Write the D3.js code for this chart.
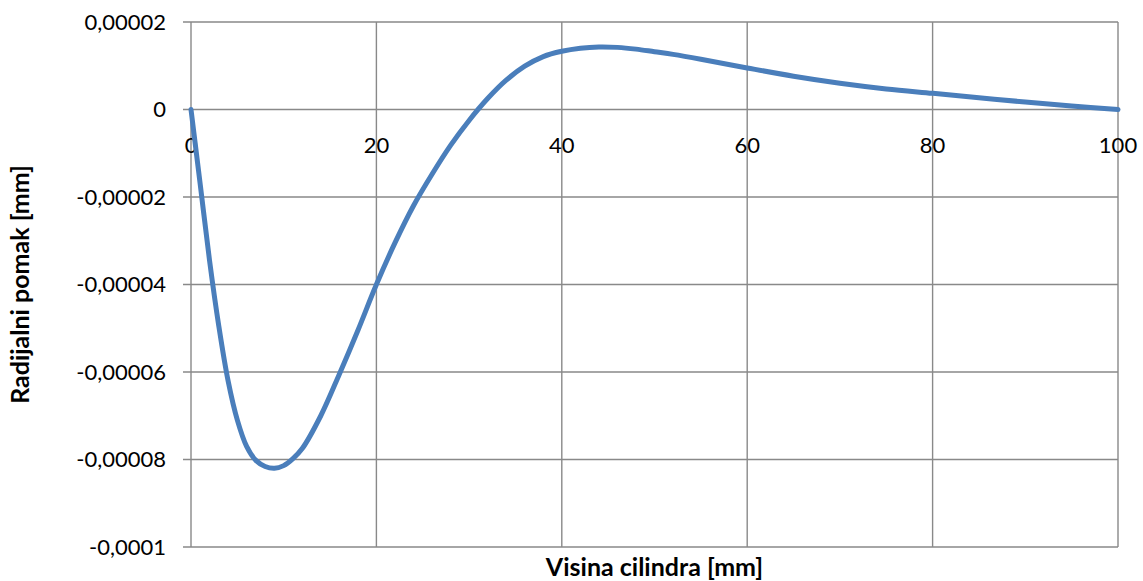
<!DOCTYPE html>
<html>
<head>
<meta charset="utf-8">
<script src="https://cdn.jsdelivr.net/npm/d3@7"></script>
<style>
  body { margin: 0; background: #fff; }
  text { font-family: Lato, "Open Sans", sans-serif; fill: #000; }
</style>
</head>
<body>
<div id="chart"></div>
<script>
// visina cilindra [mm]
const heightMm = [0, 1, 2, 3, 4, 5, 6, 7, 8, 9, 10, 11, 12, 14, 16, 18, 20, 22, 24, 26, 28, 30,
                  32, 34, 36, 38, 40, 42, 44, 46, 48, 50, 52, 55, 60, 65, 70, 75, 80, 85, 90, 95, 100];
// radijalni pomak [mm] (x 1e-5)
const radial = [0, -1.72, -3.45, -4.95, -6.2, -7.1, -7.7, -8.02, -8.16, -8.2, -8.14, -7.98, -7.75,
                -7.0, -6.05, -5.05, -4.0, -3.05, -2.2, -1.48, -0.82, -0.25,
                0.25, 0.67, 0.99, 1.21, 1.33, 1.4, 1.43, 1.42, 1.38, 1.32, 1.26, 1.15,
                0.95, 0.76, 0.6, 0.47, 0.37, 0.27, 0.17, 0.08, 0];
const xTicks = [0, 20, 40, 60, 80, 100];
const yTicks = [0.00002, 0, -0.00002, -0.00004, -0.00006, -0.00008, -0.0001];

const data = heightMm.map((h, i) => ({ x: h, y: radial[i] * 1e-5 }));

const width = 1143, height = 581;
const margin = { left: 191, right: 25, top: 22, bottom: 34 };
const innerWidth = width - margin.left - margin.right,
      innerHeight = height - margin.top - margin.bottom;

const svg = d3.select("#chart").append("svg")
    .attr("width", width)
    .attr("height", height);

const g = svg.append("g")
    .attr("transform", "translate(" + margin.left + "," + margin.top + ")");

const xScale = d3.scaleLinear().domain([0, 100]).range([0, innerWidth]);
const yScale = d3.scaleLinear().domain([-0.0001, 0.00002]).range([innerHeight, 0]);

// excel style: decimal comma, no trailing zeros
const fmtY = d => {
    if (d === 0) return "0";
    let s = Math.abs(d).toFixed(5).replace(/0+$/, "");
    return (d < 0 ? "-" : "") + s.replace(".", ",");
};

const gridColor = "#898989";

// horizontal gridlines (with ticks sticking out left)
g.selectAll(".hgrid")
    .data(yTicks)
    .enter().append("line")
    .attr("class", "hgrid")
    .attr("x1", -8)
    .attr("x2", innerWidth)
    .attr("y1", d => yScale(d))
    .attr("y2", d => yScale(d))
    .attr("stroke", gridColor)
    .attr("stroke-width", 1.4);

// vertical gridlines
g.selectAll(".vgrid")
    .data(xTicks)
    .enter().append("line")
    .attr("class", "vgrid")
    .attr("x1", d => xScale(d))
    .attr("x2", d => xScale(d))
    .attr("y1", 0)
    .attr("y2", innerHeight)
    .attr("stroke", gridColor)
    .attr("stroke-width", 1.4);

// y tick labels
g.selectAll(".ylab")
    .data(yTicks)
    .enter().append("text")
    .attr("class", "ylab")
    .attr("x", -25)
    .attr("y", d => yScale(d))
    .attr("dy", "0.36em")
    .attr("text-anchor", "end")
    .style("font-size", "22px")
    .text(fmtY);

// x tick labels, below the zero line
g.selectAll(".xlab")
    .data(xTicks)
    .enter().append("text")
    .attr("class", "xlab")
    .attr("x", d => xScale(d))
    .attr("y", yScale(0) + 43)
    .attr("text-anchor", "middle")
    .style("font-size", "22px")
    .text(d => d);

// curve
const line = d3.line()
    .x(d => xScale(d.x))
    .y(d => yScale(d.y))
    .curve(d3.curveCatmullRom.alpha(0.5));

g.append("path")
    .datum(data)
    .attr("d", line)
    .attr("fill", "none")
    .attr("stroke", "#4a7ebb")
    .attr("stroke-width", 5)
    .attr("stroke-linecap", "round");

// axis titles
svg.append("text")
    .attr("x", margin.left + innerWidth / 2)
    .attr("y", 576)
    .attr("text-anchor", "middle")
    .style("font-size", "25px")
    .style("font-weight", "bold")
    .text("Visina cilindra [mm]");

svg.append("text")
    .attr("transform", "translate(29," + (margin.top + innerHeight / 2) + ") rotate(-90)")
    .attr("text-anchor", "middle")
    .style("font-size", "25px")
    .style("font-weight", "bold")
    .text("Radijalni pomak [mm]");
</script>
</body>
</html>
